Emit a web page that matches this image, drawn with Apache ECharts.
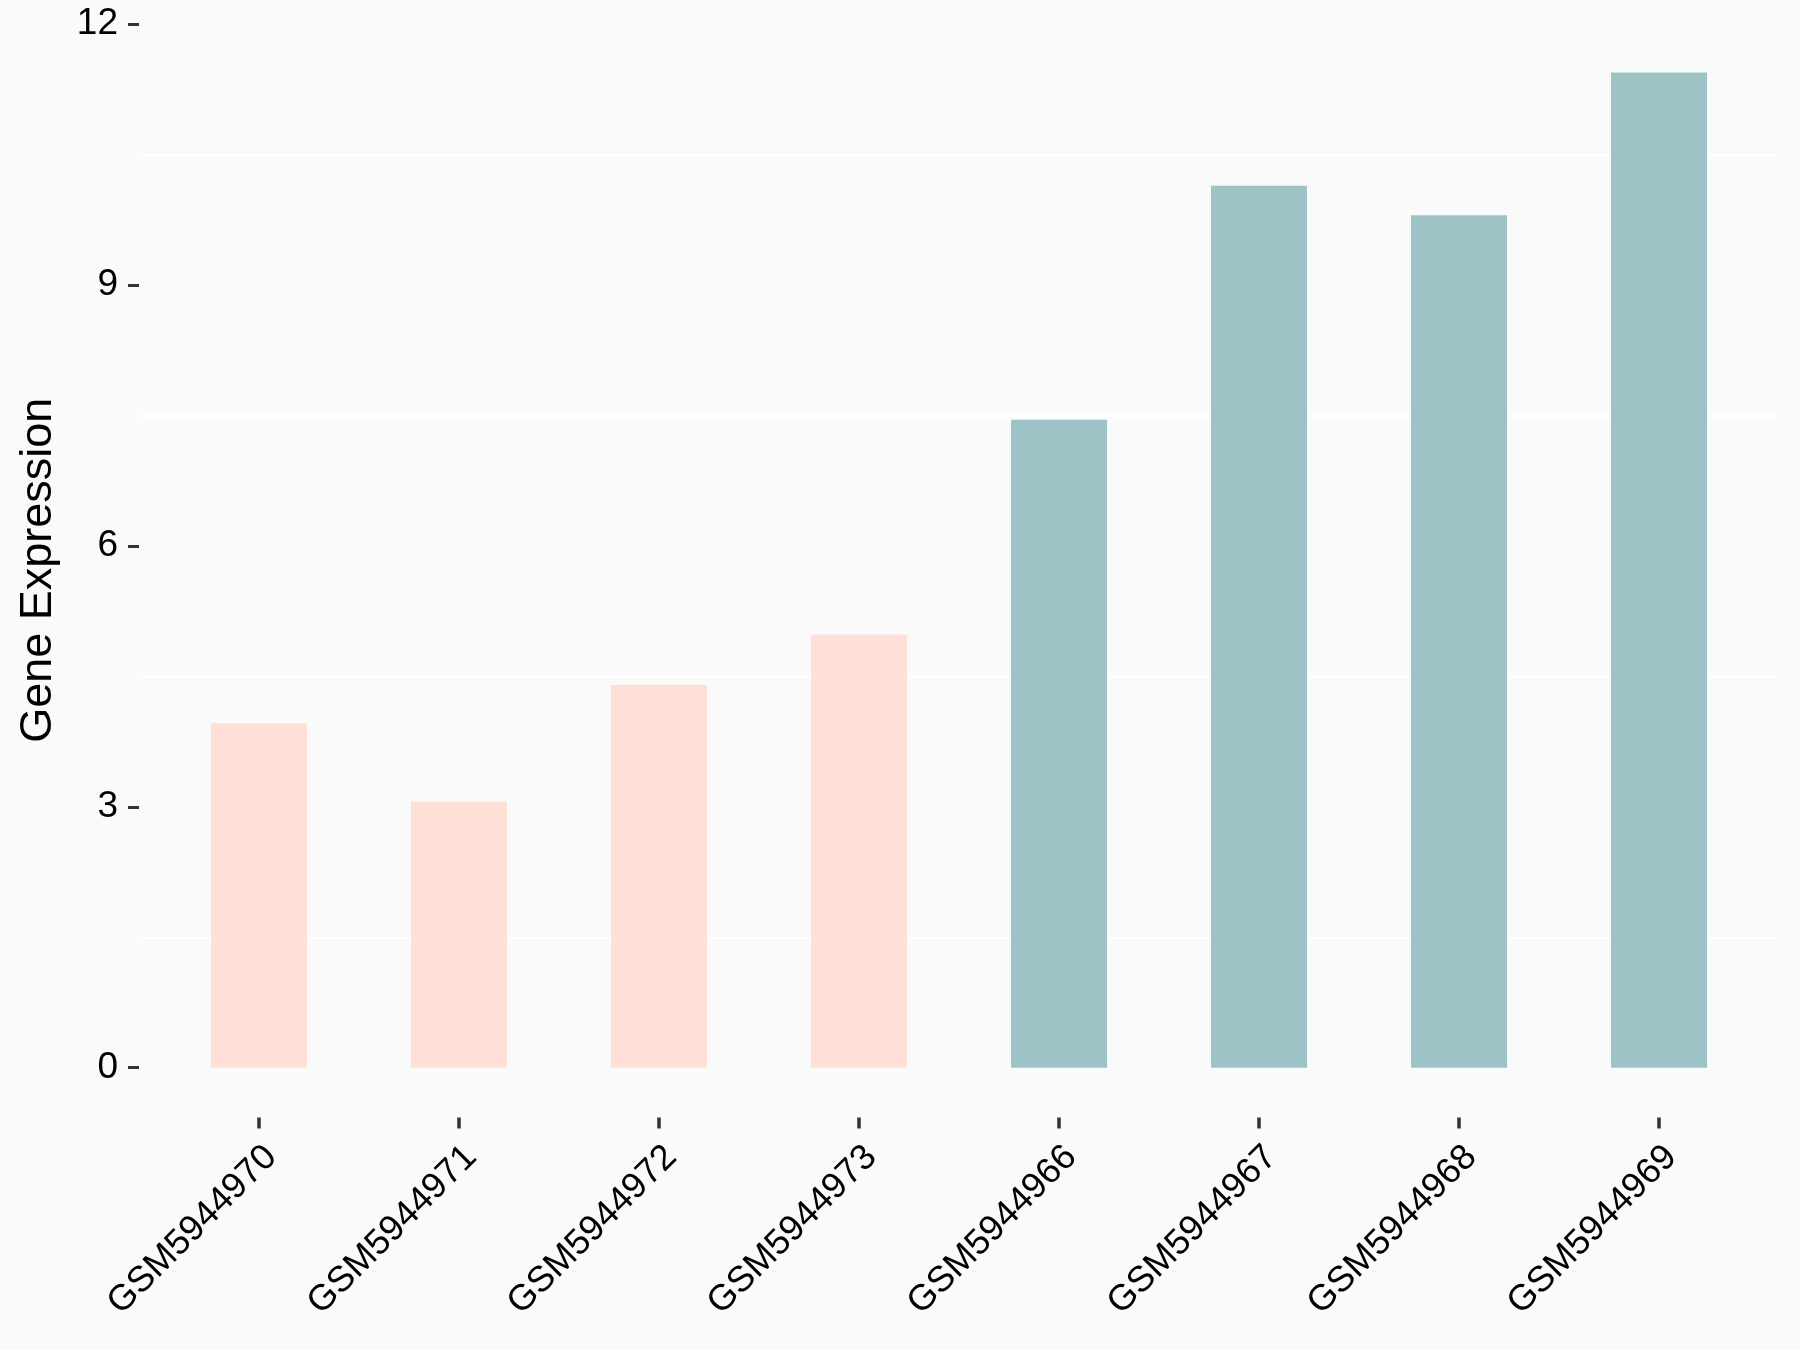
<!DOCTYPE html>
<html>
<head>
<meta charset="utf-8">
<script src="https://cdn.jsdelivr.net/npm/echarts@6/dist/echarts.min.js"></script>
<style>html,body{margin:0;padding:0;background:#FAFAFA;}#c{width:1800px;height:1350px;}</style>
</head>
<body>
<div id="c"></div>
<script>
const categories = ['GSM5944970','GSM5944971','GSM5944972','GSM5944973','GSM5944966','GSM5944967','GSM5944968','GSM5944969'];
const values = [3.96, 3.06, 4.40, 4.98, 7.45, 10.14, 9.80, 11.44];
const groups = ['low','low','low','low','high','high','high','high'];
const groupColors = {low: '#FEE0D6', high: '#9DC3C7'};
const yTicks = [0, 3, 6, 9, 12];
const minorGrid = [1.5, 4.5, 7.5, 10.5];
const yMin = -0.572, yMax = 12.01;

const font = '"Liberation Sans", Arial, sans-serif';
const chart = echarts.init(document.getElementById('c'), null, {renderer: 'canvas'});
chart.setOption({
  backgroundColor: '#FAFAFA',
  animation: false,
  grid: [
    {left: 159, width: 1600, top: 23, height: 1094.5},
    {left: 139, width: 1638, top: 23, height: 1094.5}
  ],
  xAxis: [
    {
      type: 'category', gridIndex: 0, data: categories,
      axisLine: {show: false, onZero: false},
      axisTick: {show: true, alignWithLabel: true, length: 11, lineStyle: {color: '#333', width: 3.5}},
      axisLabel: {rotate: 45, margin: 46, padding: [0, -17, 0, 0], fontSize: 36, color: '#000', fontFamily: font, interval: 0},
      splitLine: {show: false}
    },
    {type: 'value', gridIndex: 1, min: 0, max: 1, show: false}
  ],
  yAxis: [
    {type: 'value', gridIndex: 0, min: yMin, max: yMax, show: false},
    {
      type: 'value', gridIndex: 1, min: yMin, max: yMax,
      name: 'Gene Expression', nameLocation: 'middle', nameGap: 78, nameRotate: 90,
      nameTextStyle: {fontSize: 45, color: '#000', fontFamily: font},
      axisLine: {show: false},
      axisTick: {show: true, length: 11, customValues: yTicks, lineStyle: {color: '#333', width: 3}},
      axisLabel: {customValues: yTicks, fontSize: 37, color: '#000', fontFamily: font, margin: 21},
      splitLine: {show: false}
    }
  ],
  series: [
    {
      type: 'line', xAxisIndex: 1, yAxisIndex: 1, data: [], z: 1,
      markLine: {
        silent: true, symbol: 'none', label: {show: false},
        lineStyle: {color: '#FFFFFF', width: 2, type: 'solid'},
        data: minorGrid.map(v => ({yAxis: v}))
      }
    },
    {
      type: 'bar', xAxisIndex: 0, yAxisIndex: 0, z: 5,
      barWidth: '48%',
      data: values.map((v, i) => ({value: v, itemStyle: {color: groupColors[groups[i]]}}))
    }
  ]
});
</script>
</body>
</html>
